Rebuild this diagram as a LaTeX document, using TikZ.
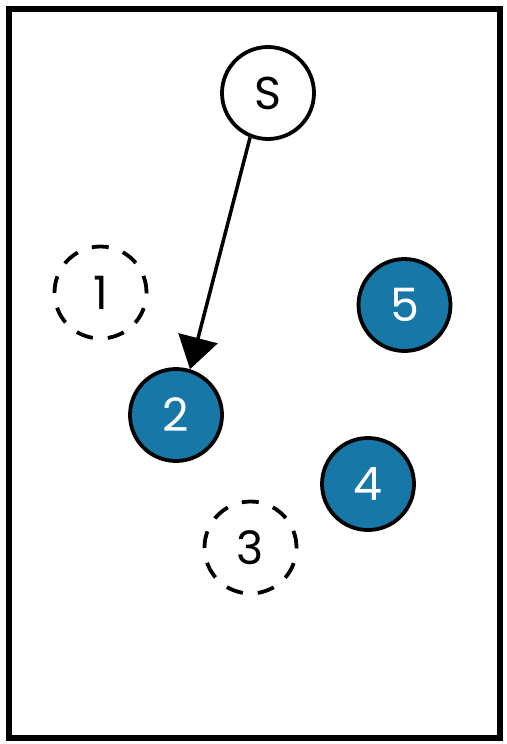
\documentclass[tikz,border=0pt]{standalone}
\usepackage{fontspec}
\setmainfont{Poppins}
\usetikzlibrary{arrows.meta}
\definecolor{nodeblue}{RGB}{23,119,166}

\begin{document}
\begin{tikzpicture}[x=1pt,y=-1pt]

\tikzset{vertex/.style = {shape=circle,draw,line width=3.8pt,minimum size=92pt,inner sep=0pt,font=\fontsize{46}{48}\selectfont}}
\tikzset{full/.style = {vertex,fill=nodeblue,text=white}}
\tikzset{empty/.style = {vertex,dash pattern=on 17pt off 15pt}}
\tikzset{edge/.style = {-{Triangle[length=32pt,width=40pt]},line width=3.5pt}}

\useasboundingbox (0,0) rectangle (506,744);
\draw[line width=6pt] (9,9) rectangle (499.5,738);

% vertices
\node[vertex] (S) at (268,93) {S};
\node[empty] (1) at (100.5,292.5) {1};
\node[full] (2) at (176,415) {2};
\node[empty] (3) at (250.5,547.5) {3};
\node[full] (4) at (368,484) {4};
\node[full] (5) at (404.5,305) {5};

%edges
\draw[edge] (S.248) -- (2.73);

\end{tikzpicture}
\end{document}
